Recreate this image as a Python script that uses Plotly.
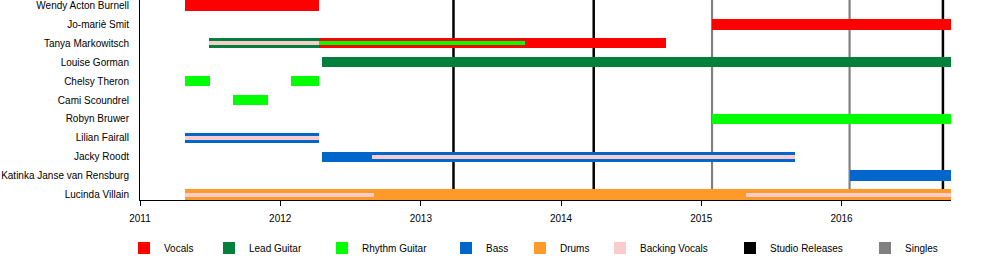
import pandas as pd
import plotly.graph_objects as go

# ---------------- data ----------------
members = [
    "Wendy Acton Burnell", "Jo-mariè Smit", "Tanya Markowitsch", "Louise Gorman",
    "Chelsy Theron", "Cami Scoundrel", "Robyn Bruwer", "Lilian Fairall",
    "Jacky Roodt", "Katinka Janse van Rensburg", "Lucinda Villain",
]
END = "2016-10-12"

roles = ["Vocals", "Lead Guitar", "Rhythm Guitar", "Bass", "Drums", "Backing Vocals"]
role_colors = ["#ff0000", "#00803a", "#00ff00", "#0066cc", "#ff9a2a", "#fbcccc"]

# main (thick) periods: member, role, start, end
main_member = ["Wendy Acton Burnell", "Jo-mariè Smit", "Tanya Markowitsch", "Tanya Markowitsch",
               "Louise Gorman", "Chelsy Theron", "Chelsy Theron", "Cami Scoundrel",
               "Robyn Bruwer", "Lilian Fairall", "Jacky Roodt", "Katinka Janse van Rensburg",
               "Lucinda Villain"]
main_role = ["Vocals", "Vocals", "Lead Guitar", "Vocals",
             "Lead Guitar", "Rhythm Guitar", "Rhythm Guitar", "Rhythm Guitar",
             "Rhythm Guitar", "Bass", "Bass", "Bass",
             "Drums"]
main_start = ["2011-04-29", "2015-01-29", "2011-06-29", "2012-04-10",
              "2012-04-20", "2011-04-29", "2012-01-30", "2011-08-30",
              "2015-01-29", "2011-04-29", "2012-04-20", "2016-01-22",
              "2011-04-29"]
main_end = ["2012-04-10", END, "2012-04-10", "2014-09-30",
            END, "2011-07-01", "2012-04-10", "2011-12-01",
            END, "2012-04-10", "2015-09-01", END,
            END]

# secondary (thin) periods
sec_member = ["Tanya Markowitsch", "Tanya Markowitsch", "Lilian Fairall", "Jacky Roodt",
              "Lucinda Villain", "Lucinda Villain"]
sec_role = ["Backing Vocals", "Rhythm Guitar", "Backing Vocals", "Backing Vocals",
            "Backing Vocals", "Backing Vocals"]
sec_start = ["2011-06-29", "2012-04-10", "2011-04-29", "2012-08-28",
             "2011-04-29", "2015-04-27"]
sec_end = ["2012-04-10", "2013-09-28", "2012-04-10", "2015-09-01",
           "2012-08-31", END]

studio_releases = ["2013-03-27", "2014-03-27", "2016-09-21"]
singles = ["2015-01-29", "2016-01-22"]

years = ["2011", "2012", "2013", "2014", "2015", "2016"]

# legend swatch left edges (px) for each legend entry
legend_names = roles + ["Studio Releases", "Singles"]
legend_colors = role_colors + ["#000000", "#808080"]
legend_px = [138, 223, 336, 460, 534, 614, 744, 879]

FONT = "Liberation Sans, Arial, sans-serif"
FS = 10

fig = go.Figure()


def dur_ms(s, e):
    return [(pd.Timestamp(b) - pd.Timestamp(a)).total_seconds() * 1000 for a, b in zip(s, e)]


legend_ids = ["legend" if i == 0 else f"legend{i+1}" for i in range(len(legend_names))]

# thick bars
for i, r in enumerate(roles):
    idx = [k for k, rr in enumerate(main_role) if rr == r]
    if not idx:
        continue
    fig.add_trace(go.Bar(
        y=[main_member[k] for k in idx],
        x=dur_ms([main_start[k] for k in idx], [main_end[k] for k in idx]),
        base=[main_start[k] for k in idx],
        orientation="h", width=0.545,
        marker=dict(color=role_colors[i], line=dict(width=0)),
        name=r, legend=legend_ids[i], showlegend=True, hoverinfo="skip",
    ))

# thin bars
for i, r in enumerate(roles):
    idx = [k for k, rr in enumerate(sec_role) if rr == r]
    if not idx:
        continue
    has_main = r in main_role
    fig.add_trace(go.Bar(
        y=[sec_member[k] for k in idx],
        x=dur_ms([sec_start[k] for k in idx], [sec_end[k] for k in idx]),
        base=[sec_start[k] for k in idx],
        orientation="h", width=0.21,
        marker=dict(color=role_colors[i], line=dict(width=0)),
        name=r, legend=legend_ids[i], showlegend=not has_main, hoverinfo="skip",
    ))

# legend-only entries for the release lines
for j, nm in enumerate(["Studio Releases", "Singles"]):
    i = 6 + j
    fig.add_trace(go.Bar(
        y=[None], x=[None], orientation="h",
        marker=dict(color=legend_colors[i], line=dict(width=0)),
        name=nm, legend=legend_ids[i], showlegend=True, hoverinfo="skip",
    ))

shapes = []
for d in studio_releases:
    shapes.append(dict(type="line", xref="x", yref="paper", x0=d, x1=d, y0=0, y1=1,
                       line=dict(color="#000000", width=2.5), layer="below"))
for d in singles:
    shapes.append(dict(type="line", xref="x", yref="paper", x0=d, x1=d, y0=0, y1=1,
                       line=dict(color="#808080", width=2.2), layer="below"))

layout_legends = {}
for i, lid in enumerate(legend_ids):
    layout_legends[lid] = dict(
        x=(legend_px[i] - 14) / 1000, xref="container", xanchor="left",
        y=(260 - 248) / 260, yref="container", yanchor="middle",
        orientation="h", bgcolor="rgba(0,0,0,0)", borderwidth=0,
        font=dict(family=FONT, size=FS, color="#000"),
    )

fig.update_layout(
    width=1000, height=260,
    margin=dict(l=140, r=49, t=0, b=60, pad=0),
    paper_bgcolor="white", plot_bgcolor="white",
    barmode="overlay", bargap=0,
    font=dict(family=FONT, size=FS, color="#000"),
    shapes=shapes,
    **layout_legends,
)

fig.update_xaxes(
    type="date", range=["2011-01-01", END],
    tickmode="array", tickvals=[f"{y}-01-01" for y in years], ticktext=years,
    ticks="outside", ticklen=5, tickcolor="#000", tickwidth=1,
    showline=True, linecolor="#000", linewidth=1,
    showgrid=False, zeroline=False, automargin=False, ticklabelstandoff=4,
    tickfont=dict(family=FONT, size=FS, color="#000"),
)
fig.update_yaxes(
    type="category", categoryorder="array", categoryarray=list(reversed(members)),
    range=[-0.29, 10.29],
    showline=True, linecolor="#000", linewidth=1,
    ticks="", showgrid=False, zeroline=False, ticklabelstandoff=8, automargin=False,
    tickfont=dict(family=FONT, size=FS, color="#000"),
)

fig.write_html("out.html")
